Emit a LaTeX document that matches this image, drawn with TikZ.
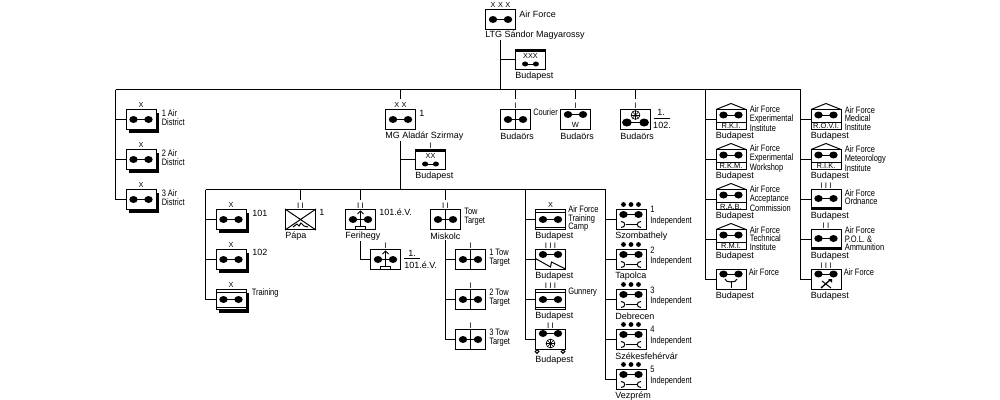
\documentclass[tikz,border=0pt]{standalone}
\usepackage{fontspec}
\usetikzlibrary{calc,positioning,shadows}
\setmainfont{Liberation Sans}
\newfontfamily\narrowfont[FakeStretch=0.8]{Liberation Sans}
\tikzset{
    unit/.style={draw,line width=0.75pt,fill=white,minimum width=22.5pt,minimum height=15pt,inner sep=0},
    shadowed/.style={drop shadow={shadow xshift=2.5pt,shadow yshift=-2.5pt,opacity=1,fill=black}},
    lab/.style={inner sep=0,anchor=west,font=\fontsize{6.75}{7}\selectfont},
    note/.style={inner sep=0,anchor=west,align=left,font=\fontsize{7}{6.4}\selectfont\narrowfont},
    ech/.style={inner sep=0,font=\fontsize{6}{6}\selectfont},
    xech/.style={inner sep=0,font=\fontsize{5.5}{6}\selectfont},
    inbox/.style={inner sep=0,font=\fontsize{5.6}{6}\selectfont},
    conn/.style={line width=0.75pt},
    prop/.pic={
        \fill (-7.5,0) ellipse [x radius=4.2,y radius=3.5];
        \fill (7.5,0) ellipse [x radius=4.2,y radius=3.5];
        \draw[conn] (-7.5,0) -- (7.5,0);
    },
    wheel/.pic={
        \draw[line width=0.5pt] (0,0) circle (4.4);
        \foreach \a in {0,45,...,135} \draw[line width=0.4pt] (\a:4.4) -- (\a+180:4.4);
    },
    wrench/.pic={
        \draw[conn] (-5.5,0) -- (5.5,0);
        \draw[conn] (-10,-3) .. controls (-5,-3) and (-5,3) .. (-10,3);
        \draw[conn] (10,-3) .. controls (5,-3) and (5,3) .. (10,3);
    },
    dots/.pic={
        \foreach \d in {-7.5,0,7.5} \fill (\d,0) circle (2.4);
    },
    roof/.pic={
        \draw[conn] (-15,0) -- (0,-6) -- (15,0);
        \draw[conn] (-15,13) -- (15,13);
    }
}
\def\under#1#2{\node[lab] (#1u) at ($(#1.south west)+(0,6.5)$) {#2};}
\def\bars#1{
    \draw[conn] ($(#1.north west)+(0,3)$) -- ++(30,0);
    \draw[conn] ($(#1.south west)+(0,-3)$) -- ++(30,0);
}
\def\midline#1{\draw[conn] (#1.north) -- (#1.south);}
\begin{document}
\begin{tikzpicture}[x=0.75pt,y=-0.75pt]
    \useasboundingbox (0,0) rectangle (1000,400);

    % Main command and headquarters
    \node[unit] (af) at (500.5,19.5) {};
    \pic at (af) {prop};
    \node[xech] (afx) at (500.5,4.5) {X\,\,X\,\,X};
    \node[lab] (afl) at (519,14) {Air Force};
    \node[lab] (afc) at (485,35) {LTG Sándor Magyarossy};
    \node[unit] (afhq) at (530.5,59.5) {};
    \fill (afhq.north west) rectangle ++(30,3);
    \node[xech] (afhqx) at (530.5,56) {XXX};
    \pic[scale=0.72] at (530.5,64) {prop};
    \under{afhq}{Budapest}

    % Upper bus
    \coordinate (busl) at (115.5,89.5);
    \coordinate (busr) at (800.5,89.5);
    \draw[conn] (busl) -- (busr);
    \draw[conn] (af |- afc.south) -- (af |- busl);
    \draw[conn] (af |- afhq) -- (afhq.west);

    % Air districts
    \foreach \i/\yy in {1/119.5,2/159.5,3/199.5} {
        \node[unit,shadowed] (ad\i) at (141,\yy) {};
        \pic at (ad\i) {prop};
        \node[xech] (adx\i) at (141,\yy-14.5) {X};
        \node[note] (adn\i) at (161.5,\yy-2) {\i\ Air\\District};
        \draw[conn] (busl) |- (ad\i.west);
    }

    % Air division
    \node[unit] (div) at (400.5,119.5) {};
    \pic at (div) {prop};
    \node[xech] (divx) at (400.5,105) {X\,\,X};
    \draw[conn] (div |- busl) -- ++(0,9);
    \node[lab] (divl) at (419,113) {1};
    \node[lab] (divc) at (385,136) {MG Aladár Szirmay};
    \node[unit] (divhq) at (430.5,159.5) {};
    \fill (divhq.north west) rectangle ++(30,3);
    \node[xech] (divhqx) at (430.5,156) {XX};
    \pic[scale=0.72] at (430.5,164) {prop};
    \node[ech] (divhqe) at (430.5,145.5) {I};
    \under{divhq}{Budapest}

    % Courier, W and 1./102.
    \node[unit] (cou) at (515.5,119.5) {};
    \pic at (cou) {prop};
    \midline{cou}
    \node[ech] (coue) at (515.5,105.5) {I};
    \node[note] (coun) at (533,112) {Courier};
    \under{cou}{Budaörs}
    \node[unit] (wsq) at (575.5,119.5) {};
    \pic at (575.5,114.5) {prop};
    \node[inbox] (wsql) at (575.5,124.5) {W};
    \node[ech] (wsqe) at (575.5,105.5) {I};
    \under{wsq}{Budaörs}
    \node[unit] (hsq) at (635.5,119.5) {};
    \pic[scale=1.15] at (635.5,122.5) {prop};
    \pic at (635.5,115) {wheel};
    \node[ech] (hsqe) at (635.5,105.5) {I};
    \node[lab,anchor=center] (hsqa) at (661,112) {1.};
    \node[lab,anchor=center] (hsqb) at (662,125) {102.};
    \draw[conn] (654,118.5) -- (670,118.5);
    \under{hsq}{Budaörs}
    \foreach \n in {cou,wsq,hsq} \draw[conn] (\n |- busl) -- ++(0,9);

    % Lower bus
    \coordinate (bus2l) at (205.5,189.5);
    \coordinate (bus2r) at (605.5,189.5);
    \draw[conn] (bus2l) -- (bus2r);
    \draw[conn] (div |- divc.south) -- (div |- bus2l);
    \draw[conn] (div |- divhq) -- (divhq.west);

    % Brigades
    \foreach \i/\yy in {1/219.5,2/259.5,3/299.5} {
        \node[unit,shadowed] (br\i) at (231,\yy) {};
        \node[xech] (brx\i) at (231,\yy-14.5) {X};
        \draw[conn] (bus2l) |- (br\i.west);
    }
    \bars{br3}
    \foreach \i in {1,2,3} \pic at (br\i) {prop};
    \node[lab] (brl1) at (252,213) {101};
    \node[lab] (brl2) at (252,252) {102};
    \node[note] (brl3) at (251.5,293) {Training};

    % Pápa
    \node[unit] (pap) at (300.5,219.5) {};
    \draw[conn] (pap.north west) -- (pap.south east);
    \draw[conn] (pap.north east) -- (pap.south west);
    \draw[conn] (293,227) -- (297,224) -- (299,226) -- (301,223) -- (304,226) -- (308,227);
    \node[ech] (pape) at (300.5,205.5) {I I};
    \node[lab] (papl) at (319,212) {1};
    \under{pap}{Pápa}

    % Ferihegy
    \node[unit] (fer) at (360.5,219.5) {};
    \pic at (fer) {prop};
    \draw[conn] (360.5,211) -- (360.5,226);
    \draw[conn] (357.5,214) -- (360.5,211) -- (363.5,214);
    \draw[conn] (355.5,229) -- (355.5,226) -- (365.5,226) -- (365.5,229);
    \node[ech] (fere) at (360.5,205.5) {I I};
    \node[lab] (ferl) at (379,212) {101.é.V.};
    \under{fer}{Ferihegy}
    \node[unit] (fer2) at (385.5,259.5) {};
    \pic at (fer2) {prop};
    \draw[conn] (385.5,251) -- (385.5,266);
    \draw[conn] (382.5,254) -- (385.5,251) -- (388.5,254);
    \draw[conn] (380.5,269) -- (380.5,266) -- (390.5,266) -- (390.5,269);
    \node[ech] (fer2e) at (385.5,245.5) {I};
    \node[lab,anchor=center] (fer2a) at (412,253) {1.};
    \node[lab] (fer2b) at (404,265) {101.é.V.};
    \draw[conn] (404,258.5) -- (420,258.5);
    \draw[conn] (fer |- feru.south) |- (fer2.west);

    % Miskolc and tow target units
    \node[unit] (mis) at (445.5,219.5) {};
    \pic at (mis) {prop};
    \midline{mis}
    \node[ech] (mise) at (445.5,205.5) {I I};
    \node[note] (misn) at (464,217) {Tow\\Target};
    \under{mis}{Miskolc}
    \foreach \i/\yy in {1/259.5,2/299.5,3/339.5} {
        \node[unit] (tow\i) at (470.5,\yy) {};
        \pic at (tow\i) {prop};
        \midline{tow\i}
        \node[ech] (towe\i) at (470.5,\yy-14) {I};
        \node[note] (town\i) at (489,\yy-2) {\i\ Tow\\Target};
        \draw[conn] (mis |- misu.south) |- (tow\i.west);
    }
    \foreach \n in {pap,fer,mis} \draw[conn] (\n |- bus2l) -- ++(0,10);

    % Training and gunnery units
    \node[unit] (cmp) at (550.5,219.5) {};
    \bars{cmp}
    \pic at (cmp) {prop};
    \node[xech] (cmpx) at (550.5,205) {X};
    \node[note] (cmpn) at (568,219) {Air Force\\Training\\Camp};
    \under{cmp}{Budapest}
    \node[unit] (zig) at (550.5,259.5) {};
    \pic at (550.5,254.5) {prop};
    \draw[conn] (535.5,258.5) -- (550.5,267) -- (551.5,262) -- (565.5,269);
    \node[ech] (zige) at (550.5,245.5) {I I I};
    \under{zig}{Budapest}
    \node[unit] (gun) at (550.5,299.5) {};
    \bars{gun}
    \pic at (gun) {prop};
    \node[ech] (gune) at (550.5,285.5) {I I I};
    \node[note] (gunn) at (568,292) {Gunnery};
    \under{gun}{Budapest}
    \node[unit] (mot) at (550.5,339.5) {};
    \pic at (550.5,333.5) {prop};
    \pic at (550.5,343.5) {wheel};
    \draw[conn] (537,351.5) circle (1.8);
    \draw[conn] (563,351.5) circle (1.8);
    \node[ech] (mote) at (550.5,325.5) {I I};
    \node[lab] (motu) at (535,360) {Budapest};
    \foreach \n in {cmp,zig,gun,mot} \draw[conn] (525.5,189.5) |- (\n.west);

    % Independent squadrons
    \foreach \i/\yy/\place in {1/219.5/Szombathely,2/259.5/Tapolca,3/299.5/Debrecen,4/339.5/Székesfehérvár,5/379.5/Vezprém} {
        \node[unit] (ind\i) at (631,\yy) {};
        \pic at (631,\yy-5) {prop};
        \pic at (631,\yy+5) {wrench};
        \pic at (631,\yy-15) {dots};
        \node[note] (indn\i) at (650,\yy-3.5) {\i\\[1.5pt]Independent};
        \node[lab] (indu\i) at (615,\yy+16.5) {\place};
        \draw[conn] (bus2r) |- (ind\i.west);
    }

    % Air Force institutes
    \foreach \i/\yy/\tag/\txt in {1/119.5/R.K.I./{Air Force\\Experimental\\Institute},
            2/159.5/R.K.M./{Air Force\\Experimental\\Workshop},
            3/199.5/R.Á.B./{Air Force\\Acceptance\\Commission},
            4/239.5/R.M.I./{Air Force\\Technical\\Institute}} {
        \node[unit] (ins\i) at (731,\yy) {};
        \pic at (731,\yy-4.5) {prop};
        \pic at (731,\yy-10) {roof};
        \node[inbox] (inst\i) at (731,\yy+6.5) {\tag};
        \node[note] (insn\i) at (749.5,\yy-1) {\txt};
        \under{ins\i}{Budapest}
        \draw[conn] (705.5,89.5) |- (ins\i.west);
    }
    \foreach \i/\yy/\tag/\txt in {1/119.5/R.O.V.I./{Air Force\\Medical\\Institute},
            2/159.5/R.I.K./{Air Force\\Meteorology\\Institute}} {
        \node[unit] (med\i) at (826,\yy) {};
        \pic at (826,\yy-4.5) {prop};
        \pic at (826,\yy-10) {roof};
        \node[inbox] (medt\i) at (826,\yy+6.5) {\tag};
        \node[note] (medn\i) at (844.5,\yy-1) {\txt};
        \under{med\i}{Budapest}
        \draw[conn] (busr) |- (med\i.west);
    }

    % Signals unit
    \node[unit] (sig) at (731,279.5) {};
    \pic at (731,274) {prop};
    \draw[conn] (731,288) -- (731,281);
    \draw[conn] (725,279) .. controls (725,283) and (737,283) .. (737,279);
    \node[note] (sign) at (748.5,272) {Air Force};
    \under{sig}{Budapest}
    \draw[conn] (705.5,89.5) |- (sig.west);

    % Ordnance, fuel and engineers
    \foreach \i/\yy/\ticks/\txt/\off in {1/199.5/I I I/{Air Force\\Ordnance}/-0.5,
            2/239.5/I I/{Air Force\\P.O.L. \&\\Ammunition}/1.5} {
        \node[unit] (ord\i) at (826,\yy) {};
        \fill (ord\i.south west) rectangle ++(30,-3);
        \pic at (826,\yy-1) {prop};
        \node[ech] (orde\i) at (826,\yy-14) {\ticks};
        \node[note] (ordn\i) at (844.5,\yy+\off-2) {\txt};
        \under{ord\i}{Budapest}
        \draw[conn] (busr) |- (ord\i.west);
    }
    \node[unit] (eng) at (826,279.5) {};
    \pic at (826,274) {prop};
    \draw[line width=1pt] (821,288) -- (830,280);
    \draw[conn] (822,281) -- (831,288);
    \fill (828,279) -- (832,279) -- (832,283) -- cycle;
    \node[ech] (enge) at (826,265.5) {I I I};
    \node[note] (engn) at (843.5,272) {Air Force};
    \under{eng}{Budapest}
    \draw[conn] (busr) |- (eng.west);
\end{tikzpicture}
\end{document}
